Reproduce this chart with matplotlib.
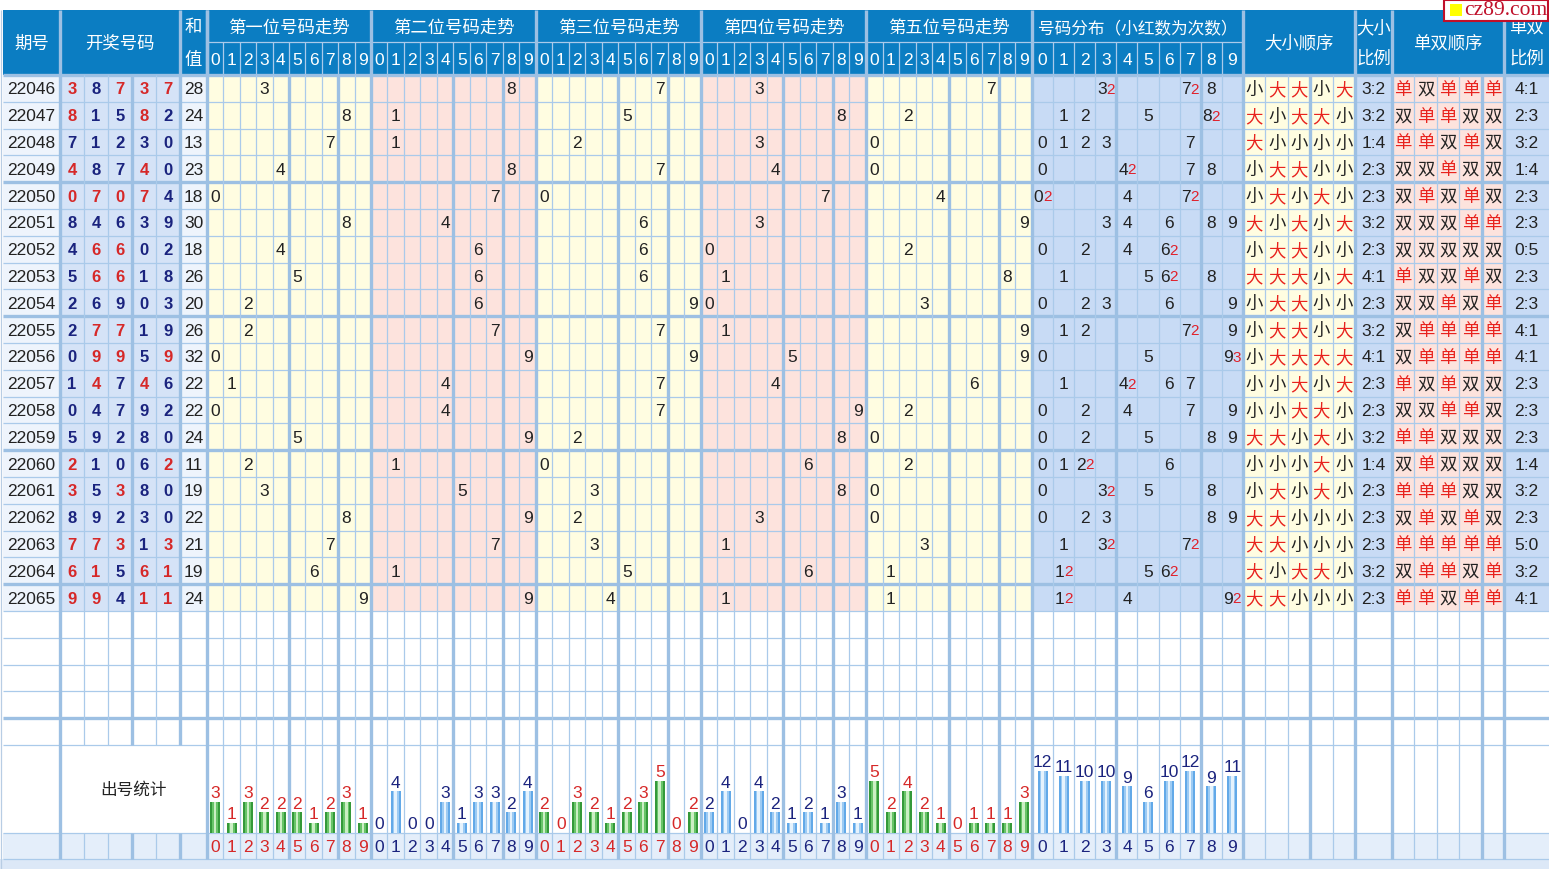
import numpy as np
import matplotlib.pyplot as plt
from matplotlib.patches import Rectangle

plt.rcParams['font.family'] = ['Liberation Sans', 'Noto Sans CJK SC', 'DejaVu Sans']

# ---- data ----
periods = ['22046', '22047', '22048', '22049', '22050', '22051', '22052', '22053', '22054', '22055',
           '22056', '22057', '22058', '22059', '22060', '22061', '22062', '22063', '22064', '22065']
draws = [[3, 8, 7, 3, 7], [8, 1, 5, 8, 2], [7, 1, 2, 3, 0], [4, 8, 7, 4, 0], [0, 7, 0, 7, 4],
         [8, 4, 6, 3, 9], [4, 6, 6, 0, 2], [5, 6, 6, 1, 8], [2, 6, 9, 0, 3], [2, 7, 7, 1, 9],
         [0, 9, 9, 5, 9], [1, 4, 7, 4, 6], [0, 4, 7, 9, 2], [5, 9, 2, 8, 0], [2, 1, 0, 6, 2],
         [3, 5, 3, 8, 0], [8, 9, 2, 3, 0], [7, 7, 3, 1, 3], [6, 1, 5, 6, 1], [9, 9, 4, 1, 1]]
sums = [28, 24, 13, 23, 18, 30, 18, 26, 20, 26, 32, 22, 22, 24, 11, 19, 22, 21, 19, 24]
pos1_counts = [3, 1, 3, 2, 2, 2, 1, 2, 3, 1]
pos2_counts = [0, 4, 0, 0, 3, 1, 3, 3, 2, 4]
pos3_counts = [2, 0, 3, 2, 1, 2, 3, 5, 0, 2]
pos4_counts = [2, 4, 0, 4, 2, 1, 2, 1, 3, 1]
pos5_counts = [5, 2, 4, 2, 1, 0, 1, 1, 1, 3]
dist_counts = [12, 11, 10, 10, 9, 6, 10, 12, 9, 11]
pos_titles = ['第一位号码走势', '第二位号码走势', '第三位号码走势', '第四位号码走势', '第五位号码走势']
digits = [str(d) for d in range(10)]

# ---- layout (pixels) ----
W, H = 1549, 870
x_id = (3, 60)
x_draw = np.linspace(60, 180, 6)
x_sum = (180, 207)
trend_edges = [207, 371, 536, 701, 866, 1032]
x_dist = np.linspace(1032, 1243, 11)
x_bs = np.linspace(1243, 1355, 6)
x_bsr = (1355, 1392)
x_oe = np.linspace(1392, 1504, 6)
x_oer = (1504, 1549)
y_h0, y_h1, y_h2 = 11, 43, 76
rh = 26.8
y_rows = y_h2 + rh * np.arange(26)
y_stat = (y_rows[-1], 834)
y_lab = (834, 860)

HEAD = '#0B7DC2'
YEL, PINK, BLUE, LBLUE = '#FFFDE1', '#FDE3DD', '#C8DBF5', '#EEF4FC'
THIN, THICK = '#AACAEA', '#9DC0E3'
RED, NAVY, DARK = '#D62828', '#1A237E', '#222222'

fig = plt.figure(figsize=(W / 100, H / 100), dpi=100)
ax = fig.add_axes([0, 0, 1, 1])
ax.set_xlim(0, W)
ax.set_ylim(H, 0)
ax.axis('off')


def rect(x0, x1, y0, y1, color, z=0):
    ax.add_patch(Rectangle((x0, y0), x1 - x0, y1 - y0, facecolor=color, edgecolor='none', zorder=z))


def vline(x, y0, y1, thick=False, color=None):
    ax.plot([x, x], [y0, y1], color=color or (THICK if thick else THIN),
            lw=2.4 if thick else 0.9, zorder=2, solid_capstyle='butt')


def hline(y, x0, x1, thick=False, color=None):
    ax.plot([x0, x1], [y, y], color=color or (THICK if thick else THIN),
            lw=2.4 if thick else 0.9, zorder=2, solid_capstyle='butt')


def txt(x, y, s, size=12, color=DARK, weight='normal', ha='center', va='center'):
    ax.text(x, y, s, fontsize=size, color=color, fontweight=weight, ha=ha, va=va, zorder=5)


def cells(edges):
    return [(edges[i] + edges[i + 1]) / 2 for i in range(len(edges) - 1)]


trend_x = [np.linspace(trend_edges[g], trend_edges[g + 1], 11) for g in range(5)]

# ---- backgrounds ----
rect(0, W, 0, H, 'white', -1)
rect(x_id[0], W, y_h0, y_h2, HEAD)
y_data_end = y_rows[20]
rect(x_id[0], x_id[1], y_h2, y_data_end, LBLUE)
rect(x_draw[0], x_draw[-1], y_h2, y_data_end, '#D5E3F7')
rect(x_sum[0], x_sum[1], y_h2, y_data_end, LBLUE)
for g in range(5):
    rect(trend_edges[g], trend_edges[g + 1], y_h2, y_data_end, YEL if g % 2 == 0 else PINK)
rect(x_dist[0], x_dist[-1], y_h2, y_data_end, BLUE)
rect(x_bs[0], x_bs[-1], y_h2, y_data_end, YEL)
rect(x_bsr[0], x_bsr[1], y_h2, y_data_end, BLUE)
rect(x_oe[0], x_oe[-1], y_h2, y_data_end, PINK)
rect(x_oer[0], x_oer[1], y_h2, y_data_end, BLUE)
rect(x_id[0], W, y_lab[0], y_lab[1], '#E4EEFA')
rect(0, W, y_lab[1], H, '#DCE8F7')
vline(1.5, y_h0, H, color='#B8CDE4')

# ---- header ----
WH = 'white'
txt(sum(x_id) / 2, (y_h0 + y_h2) / 2, '期号', 12.5, WH)
txt((x_draw[0] + x_draw[-1]) / 2, (y_h0 + y_h2) / 2, '开奖号码', 12.5, WH)
txt(sum(x_sum) / 2, (y_h0 + y_h1) / 2, '和', 12.5, WH)
txt(sum(x_sum) / 2, (y_h1 + y_h2) / 2, '值', 12.5, WH)
for g in range(5):
    txt((trend_edges[g] + trend_edges[g + 1]) / 2, (y_h0 + y_h1) / 2 + 1, pos_titles[g], 12.5, WH)
    for cx, d in zip(cells(trend_x[g]), digits):
        txt(cx, (y_h1 + y_h2) / 2 + 1, d, 12.5, WH)
    for i in range(1, 10):
        vline(trend_x[g][i], y_h1, y_h2)
    hline(y_h1, trend_edges[g], trend_edges[g + 1])
txt((x_dist[0] + x_dist[-1]) / 2, (y_h0 + y_h1) / 2 + 1, '号码分布（小红数为次数）', 12, WH)
for cx, d in zip(cells(x_dist), digits):
    txt(cx, (y_h1 + y_h2) / 2 + 1, d, 12.5, WH)
for i in range(1, 10):
    vline(x_dist[i], y_h1, y_h2)
hline(y_h1, x_dist[0], x_dist[-1])
txt((x_bs[0] + x_bs[-1]) / 2, (y_h0 + y_h2) / 2, '大小顺序', 12.5, WH)
txt(sum(x_bsr) / 2, (y_h0 + y_h1) / 2 + 1, '大小', 12.5, WH)
txt(sum(x_bsr) / 2, (y_h1 + y_h2) / 2 - 1, '比例', 12.5, WH)
txt((x_oe[0] + x_oe[-1]) / 2, (y_h0 + y_h2) / 2, '单双顺序', 12.5, WH)
txt(sum(x_oer) / 2, (y_h0 + y_h1) / 2 + 1, '单双', 12.5, WH)
txt(sum(x_oer) / 2, (y_h1 + y_h2) / 2 - 1, '比例', 12.5, WH)
for x in [x_id[1], x_draw[-1], x_sum[1]] + trend_edges + [x_dist[-1], x_bs[-1], x_bsr[1], x_oe[-1]]:
    vline(x, y_h0, y_h2, thick=True)

# ---- grid lines of the body ----
body_top, body_bot = y_h2, y_lab[1]
for i, y in enumerate(y_rows):
    hline(y, x_id[0], W, thick=(i in (0, 4, 9, 14, 19, 24)))
hline(y_lab[0], x_id[0], W)
hline(y_lab[1], x_id[0], W)
vline(x_id[1], body_top, body_bot, thick=True)
for i in range(1, 5):
    vline(x_draw[i], body_top, y_rows[-1], thick=(i == 3))
    vline(x_draw[i], y_lab[0], y_lab[1], thick=(i == 3))
vline(x_draw[-1], body_top, y_rows[-1], thick=True)
vline(x_draw[-1], y_lab[0], y_lab[1], thick=True)
for g in range(5):
    for i in range(1, 10):
        vline(trend_x[g][i], body_top, body_bot, thick=(i in (5, 8)))
for x in trend_edges + [x_dist[-1], x_bs[-1], x_bsr[1], x_oe[-1]]:
    vline(x, body_top, body_bot, thick=True)
for i in range(1, 10):
    vline(x_dist[i], body_top, body_bot, thick=(i in (4, 8)))
for i in range(1, 5):
    vline(x_bs[i], body_top, body_bot, thick=(i == 3))
    vline(x_oe[i], body_top, body_bot, thick=(i == 4))

# ---- data rows ----
for r, (per, dr, s) in enumerate(zip(periods, draws, sums)):
    cy = (y_rows[r] + y_rows[r + 1]) / 2 + 0.5
    txt(sum(x_id) / 2, cy, per, 12.5)
    for cx, d in zip(cells(x_draw), dr):
        txt(cx, cy, str(d), 12, RED if dr.count(d) > 1 else NAVY, weight='bold')
    txt(sum(x_sum) / 2, cy, str(s), 12.5)
    for g in range(5):
        txt(cells(trend_x[g])[dr[g]], cy, str(dr[g]), 12.5)
    dc = cells(x_dist)
    for d in sorted(set(dr)):
        n = dr.count(d)
        if n > 1:
            txt(dc[d] - 4, cy, str(d), 12.5)
            txt(dc[d] + 4.5, cy, str(n), 11, '#E0202A')
        else:
            txt(dc[d], cy, str(d), 12.5)
    for cx, d in zip(cells(x_bs), dr):
        txt(cx, cy, '大' if d >= 5 else '小', 12.5, '#E8231E' if d >= 5 else DARK)
    big = sum(d >= 5 for d in dr)
    txt(sum(x_bsr) / 2, cy, f'{big}:{5 - big}', 12.5)
    for cx, d in zip(cells(x_oe), dr):
        txt(cx, cy, '单' if d % 2 else '双', 12.5, '#E8231E' if d % 2 else DARK)
    odd = sum(d % 2 for d in dr)
    txt(sum(x_oer) / 2, cy, f'{odd}:{5 - odd}', 12.5)

# ---- statistics row ----
rect(x_draw[0] + 1, x_sum[1] - 1, y_stat[0] + 1, y_stat[1] - 1, 'white', 1)
txt((x_draw[0] + x_sum[1]) / 2, (y_stat[0] + y_stat[1]) / 2, '出号统计', 12)

GREEN_SHADES = ['#34993A', '#68C468', '#CBEFC4']
BLUE_SHADES = ['#62A9E8', '#9DCBF3', '#E6F3FD']


def draw_bars(centers, counts, scale, shades, label_color):
    counts = np.asarray(counts, dtype=float)
    h = counts * scale
    base = y_stat[1]
    for w, c in zip([10, 6, 2.5], shades):
        ax.bar(centers, h, width=w, bottom=base - h, color=c, zorder=3)
    for cx, hh, n in zip(centers, h, counts):
        txt(cx, base - hh - 1.5, str(int(n)), 12.5, label_color, va='bottom')


all_pos = [pos1_counts, pos2_counts, pos3_counts, pos4_counts, pos5_counts]
for g in range(5):
    green = g % 2 == 0
    draw_bars(cells(trend_x[g]), all_pos[g], 10.4,
              GREEN_SHADES if green else BLUE_SHADES, RED if green else NAVY)
    for cx, d in zip(cells(trend_x[g]), digits):
        txt(cx, sum(y_lab) / 2 + 1, d, 12.5, RED if green else NAVY)
draw_bars(cells(x_dist), dist_counts, 5.2, BLUE_SHADES, NAVY)
for cx, d in zip(cells(x_dist), digits):
    txt(cx, sum(y_lab) / 2 + 1, d, 12.5, NAVY)

# ---- watermark ----
ax.add_patch(Rectangle((1444, 0.5), 104, 21, facecolor='white', edgecolor='#C0102A', lw=1.5, zorder=6))
ax.add_patch(Rectangle((1450, 5), 12, 12, facecolor='#FFFF00', edgecolor='none', zorder=7))
ax.text(1506, 10.5, 'cz89.com', fontsize=15.5, color='#C0102A', family='Liberation Serif',
        ha='center', va='center', zorder=7)

fig.savefig('out.png', dpi=100)
